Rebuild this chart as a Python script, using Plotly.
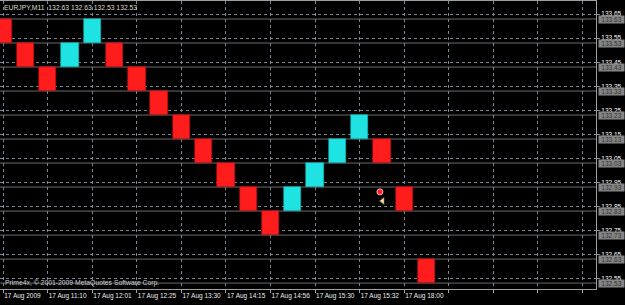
import plotly.graph_objects as go

# ---- data ----
symbol_title = "EURJPY,M11&nbsp;&nbsp;132.63 132.63 132.53 132.53"
copyright_text = "Prime4x, © 2001-2009 MetaQuotes Software Corp."

brick_open = [133.63, 133.53, 133.43, 133.43, 133.53, 133.53, 133.43, 133.33, 133.23, 133.13,
              133.03, 132.93, 132.83, 132.83, 132.93, 133.03, 133.13, 133.13, 132.93, 132.63]
brick_close = [133.53, 133.43, 133.33, 133.53, 133.63, 133.43, 133.33, 133.23, 133.13, 133.03,
               132.93, 132.83, 132.73, 132.93, 133.03, 133.13, 133.23, 133.03, 132.83, 132.53]

time_labels = ["17 Aug 2009", "17 Aug 11:10", "17 Aug 12:01", "17 Aug 12:25", "17 Aug 13:30",
               "17 Aug 14:15", "17 Aug 14:56", "17 Aug 15:30", "17 Aug 15:32", "17 Aug 18:00",
               "", "", "", ""]
time_tick_pos = [0, 2, 4, 6, 8, 10, 12, 14, 16, 18, 20, 22, 24, 26]

price_ticks = [132.55, 132.65, 132.75, 132.85, 132.95, 133.05,
               133.15, 133.25, 133.35, 133.45, 133.55, 133.65]
level_lines = [132.53, 132.63, 132.73, 132.83, 132.93, 133.03,
               133.13, 133.23, 133.33, 133.43, 133.53, 133.63]

trade_x = [16.91, 17.03]
trade_y = [132.91, 132.872]

# ---- styles ----
UP = "#1fe3e3"
DOWN = "#ff1c1c"
GRID = "#778899"
FONT = "Liberation Sans"

idx = list(range(len(brick_open)))
base = [min(o, c) for o, c in zip(brick_open, brick_close)]
height = [abs(c - o) for o, c in zip(brick_open, brick_close)]
colors = [UP if c > o else DOWN for o, c in zip(brick_open, brick_close)]
edge = ["#13b5b5" if c > o else "#b01010" for o, c in zip(brick_open, brick_close)]

fig = go.Figure()

fig.add_trace(go.Bar(
    x=idx, y=height, base=base, width=0.777,
    marker=dict(color=colors, line=dict(color=edge, width=0.6)),
    hoverinfo="skip", showlegend=False,
))

# trade markers
fig.add_trace(go.Scatter(
    x=trade_x, y=trade_y, mode="lines",
    line=dict(color="#a01818", width=1, dash="dot"),
    hoverinfo="skip", showlegend=False,
))
fig.add_trace(go.Scatter(
    x=trade_x[:1], y=trade_y[:1], mode="markers",
    marker=dict(symbol="circle", size=6, color="#ff2020", line=dict(color="#ffb0b0", width=1)),
    hoverinfo="skip", showlegend=False,
))
fig.add_trace(go.Scatter(
    x=trade_x[1:], y=trade_y[1:], mode="markers",
    marker=dict(symbol="triangle-left", size=6, color="#f0e2b0", line=dict(color="#806040", width=0.5)),
    hoverinfo="skip", showlegend=False,
))

# solid price level lines
for lv in level_lines:
    fig.add_shape(type="line", xref="paper", x0=0, x1=1, yref="y", y0=lv, y1=lv,
                  line=dict(color="#6a6a6a", width=1), layer="below")
    fig.add_annotation(xref="paper", x=1, xshift=2, xanchor="left", yref="y", y=lv,
                       yanchor="middle", yshift=-0.5, text=format(lv, ".2f"), showarrow=False,
                       bgcolor="#858585", borderpad=0, width=25, height=7,
                       font=dict(family=FONT, size=6.5, color="#333333"))

# texts
fig.add_annotation(xref="paper", yref="paper", x=0, xshift=2, y=1, yshift=-1,
                   xanchor="left", yanchor="top", text=symbol_title, showarrow=False,
                   font=dict(family=FONT, size=6.8, color="#dcdcd0"))
fig.add_annotation(xref="paper", yref="paper", x=0, xshift=3, y=0, yshift=0,
                   xanchor="left", yanchor="bottom", text=copyright_text, showarrow=False,
                   font=dict(family=FONT, size=6.8, color="#d0d0d0"))

fig.update_layout(
    width=625, height=305,
    margin=dict(l=0, r=29, t=1, b=16),
    paper_bgcolor="black", plot_bgcolor="black",
    bargap=0,
    xaxis=dict(
        range=[-0.144, 26.61], tickmode="array", tickvals=time_tick_pos, ticktext=time_labels,
        ticklabelposition="outside right", tickangle=0,
        showgrid=True, gridcolor=GRID, griddash="dot", gridwidth=1,
        zeroline=False, showline=True, mirror=True, linecolor="#a0a0a0", linewidth=1,
        ticks="outside", ticklen=3, tickcolor="#a0a0a0",
        tickfont=dict(family=FONT, size=6.5, color="#ececec"),
    ),
    yaxis=dict(
        side="right", range=[132.5054, 133.705], tickmode="array", tickvals=price_ticks,
        ticktext=[f"{v:.2f}" for v in price_ticks],
        showgrid=True, gridcolor=GRID, griddash="dot", gridwidth=1,
        zeroline=False, showline=True, linecolor="#a0a0a0", linewidth=1,
        ticks="outside", ticklen=3, tickcolor=GRID,
        tickfont=dict(family=FONT, size=6.5, color="#ffffff"),
    ),
)

fig.write_html("out.html")
